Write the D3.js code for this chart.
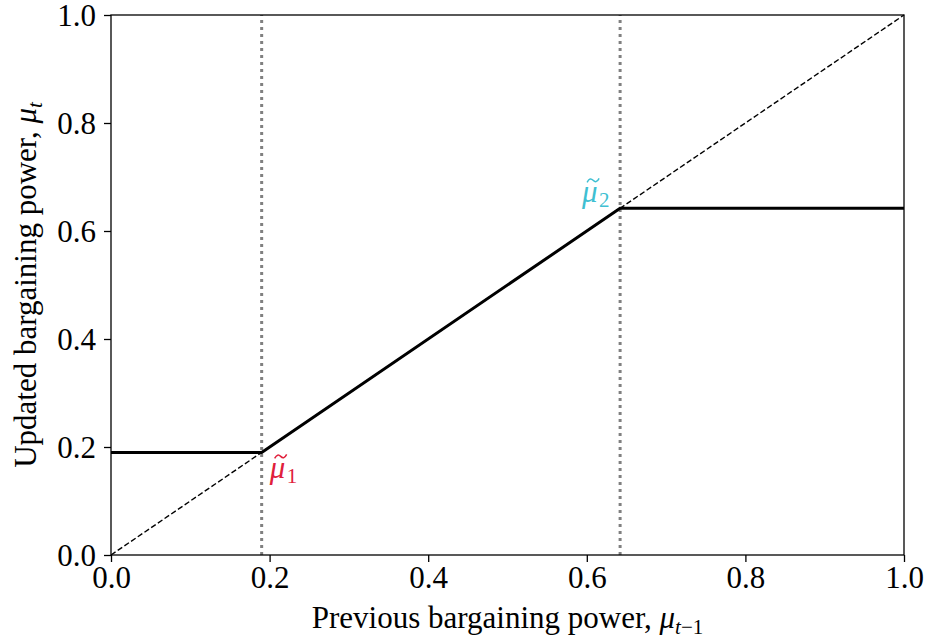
<!DOCTYPE html>
<html><head><meta charset="utf-8">
<script src="https://cdn.jsdelivr.net/npm/d3@7"></script>
<style>body{margin:0;background:#fff}svg{display:block}svg text{font-family:"Liberation Serif","Times New Roman",serif !important}</style>
</head><body><svg id="c" width="926" height="639"></svg>
<script>
const xTicks = [0.0, 0.2, 0.4, 0.6, 0.8, 1.0];
const yTicks = [0.0, 0.2, 0.4, 0.6, 0.8, 1.0];
const mu1 = 0.19;
const mu2 = 0.642;
const diagonal = [[0, 0], [1, 1]];
const updateX = [0, mu1, mu2, 1];
const updateY = [mu1, mu1, mu2, mu2];
const thresholds = [mu1, mu2];
const labels = [{name: "1", x: mu1, y: mu1, color: "#e0203c"}, {name: "2", x: mu2, y: mu2, color: "#3fbfd2"}];

const svg = d3.select("#c");
const L = 111, R = 904, T = 15, B = 555;
const x = d3.scaleLinear().domain([0, 1]).range([L, R]);
const y = d3.scaleLinear().domain([0, 1]).range([B, T]);
const fs = 31, sfs = 21;

// diagonal dashed
svg.append("path").attr("d", d3.line().x(d => x(d[0])).y(d => y(d[1]))(diagonal))
  .attr("fill", "none").attr("stroke", "#000").attr("stroke-width", 1.4).attr("stroke-dasharray", "5.5,2.6");

// vertical dotted
svg.selectAll("line.v").data(thresholds).join("line").attr("class", "v")
  .attr("x1", d => x(d)).attr("x2", d => x(d)).attr("y1", y(0)).attr("y2", y(1))
  .attr("stroke", "#808080").attr("stroke-width", 3).attr("stroke-dasharray", "3,4");

// main line
svg.append("path").attr("d", d3.line().x(d => x(d)).y((d, i) => y(updateY[i]))(updateX))
  .attr("fill", "none").attr("stroke", "#000").attr("stroke-width", 3);

// axes
const xa = svg.append("g").attr("transform", `translate(0,${B})`)
  .call(d3.axisBottom(x).tickValues(xTicks).tickFormat(d3.format(".1f")).tickSize(7).tickPadding(4));
const ya = svg.append("g").attr("transform", `translate(${L},0)`)
  .call(d3.axisLeft(y).tickValues(yTicks).tickFormat(d3.format(".1f")).tickSize(7).tickPadding(8));
[xa, ya].forEach(g => {
  g.attr("font-family", null).attr("font-size", null);
  g.select(".domain").remove();
  g.selectAll("line").attr("stroke", "#000").attr("stroke-width", 1.3);
  g.selectAll("text").attr("font-size", fs).attr("fill", "#000");
});
ya.selectAll("text").attr("dy", "0.34em");
// frame
svg.append("rect").attr("x", L).attr("y", T).attr("width", R - L).attr("height", B - T)
  .attr("fill", "none").attr("stroke", "#000").attr("stroke-width", 1.3);

// axis labels
const xl = svg.append("text").attr("x", (L + R) / 2).attr("y", 628).attr("text-anchor", "middle").attr("font-size", fs);
xl.append("tspan").text("Previous bargaining power, ");
xl.append("tspan").attr("font-style", "italic").text("μ");
xl.append("tspan").attr("font-style", "italic").attr("font-size", sfs).attr("dy", 6).text("t");
xl.append("tspan").attr("font-size", sfs).text("−1");

const yl = svg.append("text").attr("transform", `translate(36,${(T + B) / 2}) rotate(-90)`).attr("text-anchor", "middle").attr("font-size", fs);
yl.append("tspan").text("Updated bargaining power, ");
yl.append("tspan").attr("font-style", "italic").text("μ");
yl.append("tspan").attr("font-style", "italic").attr("font-size", sfs).attr("dy", 6).text("t");

// annotations
const off = [{dx: 8, dy: 26}, {dx: -38, dy: -6}];
labels.forEach((d, i) => {
  const g = svg.append("g").attr("transform", `translate(${x(d.x) + off[i].dx},${y(d.y) + off[i].dy})`);
  g.append("text").attr("font-size", fs).attr("font-style", "italic").attr("fill", d.color).text("μ");
  g.append("path").attr("d", "M5,-20 C7,-24 9,-24 11,-22 C13,-20 15,-20 17,-24")
    .attr("fill", "none").attr("stroke", d.color).attr("stroke-width", 1.5);
  g.append("text").attr("x", 17).attr("y", 5).attr("font-size", sfs).attr("fill", d.color).text(d.name);
});
</script></body></html>
